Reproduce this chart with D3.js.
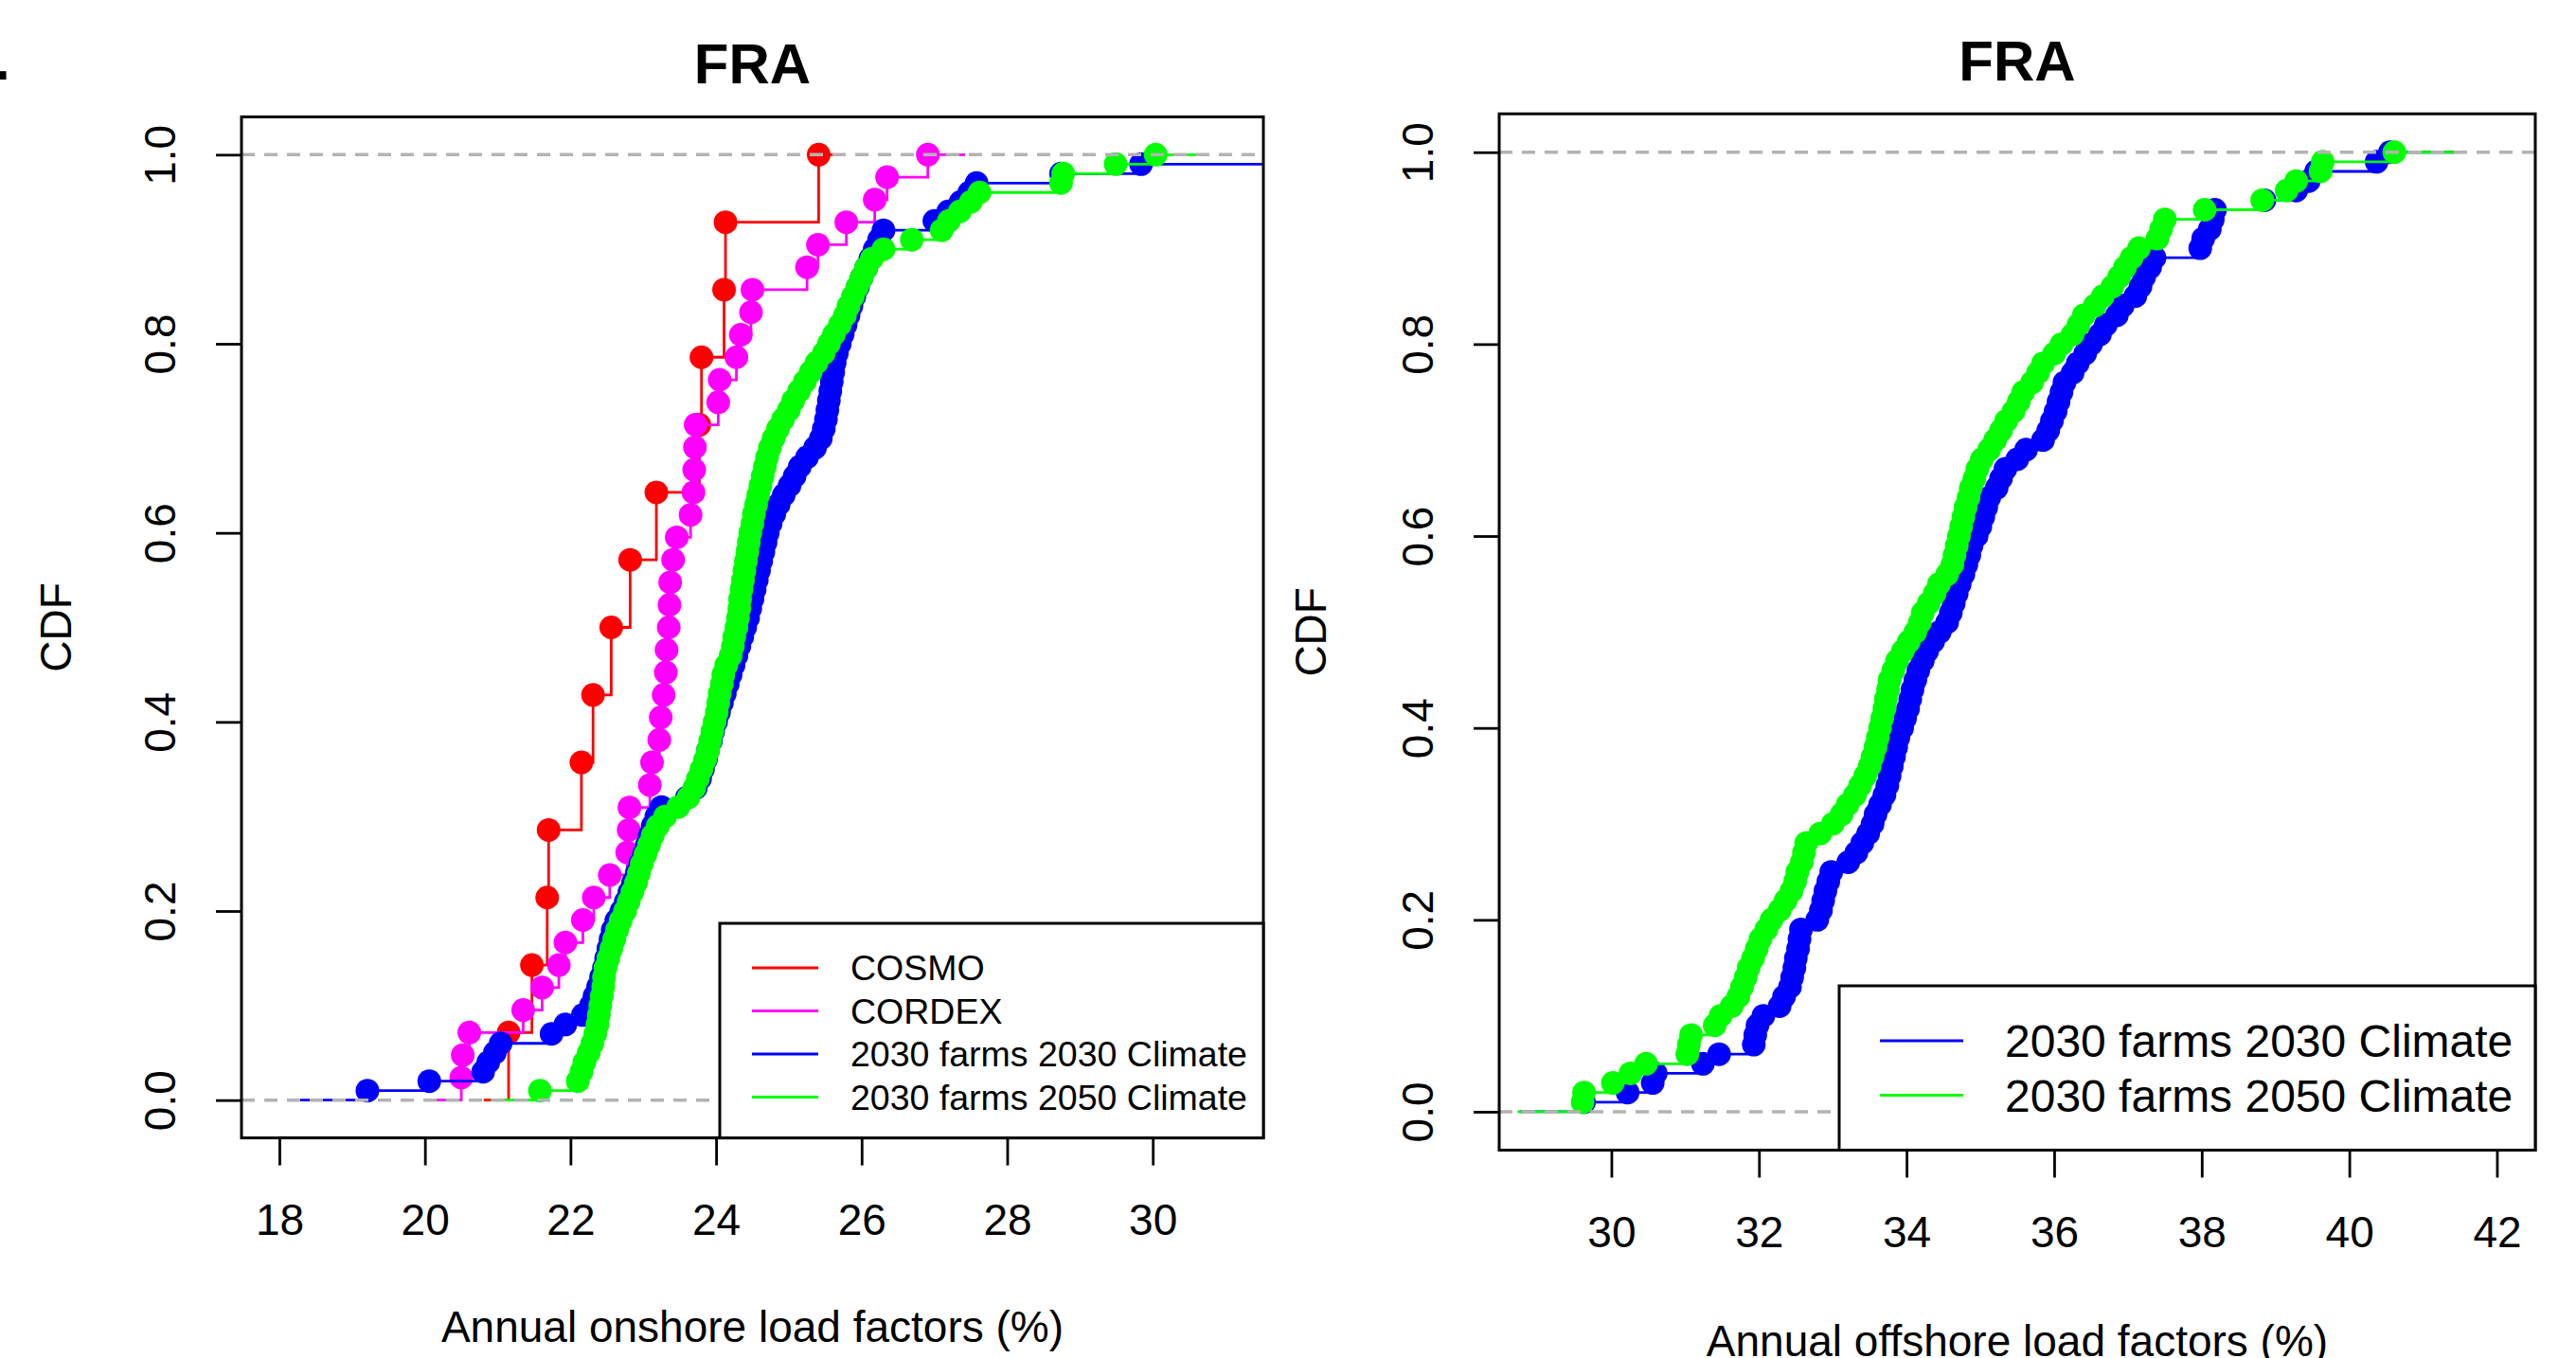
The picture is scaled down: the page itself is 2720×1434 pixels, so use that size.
<!DOCTYPE html>
<html>
<head>
<meta charset="utf-8">
<script src="https://cdn.jsdelivr.net/npm/d3@7"></script>
<style>
  body { margin: 0; background: #fff; }
  text { font-family: "Liberation Sans", Arial, sans-serif; }
</style>
</head>
<body>
<svg id="chart" width="2720" height="1434"></svg>
<script>
// ---- data ----
var cosmoOnshore = [21.15, 21.47, 21.68, 21.70, 22.15, 22.31, 22.56, 22.82, 23.18, 23.77, 23.80, 24.11, 24.13, 25.41];

var cordexOnshore = [20.50, 20.52, 20.61, 21.35, 21.61, 21.84, 21.93, 22.17, 22.32, 22.54,
  22.78, 22.80, 22.81, 23.09, 23.12, 23.22, 23.24, 23.28, 23.31, 23.32,
  23.35, 23.36, 23.37, 23.41, 23.46, 23.65, 23.69, 23.70, 23.71, 23.72,
  24.03, 24.05, 24.28, 24.34, 24.48, 24.50, 25.25, 25.40, 25.79, 26.18,
  26.35, 26.91];

var farms2030Onshore = [19.21, 20.06, 20.80, 20.87, 20.96, 21.04, 21.74, 21.93, 22.17, 22.28,
  22.33, 22.38, 22.42, 22.46, 22.49, 22.52, 22.55, 22.58, 22.63, 22.70,
  22.76, 22.81, 22.86, 22.91, 22.96, 23.01, 23.05, 23.09, 23.13, 23.18,
  23.25, 23.60, 23.72, 23.78, 23.82, 23.86, 23.89, 23.93, 23.96, 24.00,
  24.04, 24.08, 24.12, 24.16, 24.20, 24.24, 24.28, 24.32, 24.36, 24.40,
  24.44, 24.47, 24.50, 24.53, 24.56, 24.59, 24.62, 24.65, 24.68, 24.71,
  24.75, 24.80, 24.86, 24.93, 25.01, 25.08, 25.15, 25.25, 25.36, 25.44,
  25.48, 25.51, 25.53, 25.55, 25.57, 25.59, 25.61, 25.63, 25.66, 25.70,
  25.74, 25.78, 25.82, 25.86, 25.90, 25.95, 26.00, 26.06, 26.12, 26.18,
  26.24, 26.30, 27.00, 27.19, 27.36, 27.48, 27.58, 28.74, 29.84, 33.00];

var farms2050Onshore = [21.58, 22.10, 22.15, 22.19, 22.25, 22.30, 22.34, 22.37, 22.39, 22.41,
  22.43, 22.45, 22.46, 22.48, 22.52, 22.56, 22.60, 22.64, 22.69, 22.75,
  22.80, 22.85, 22.90, 22.94, 22.98, 23.03, 23.08, 23.13, 23.20, 23.30,
  23.48, 23.62, 23.70, 23.75, 23.80, 23.85, 23.89, 23.92, 23.95, 23.98,
  24.01, 24.03, 24.05, 24.08, 24.10, 24.14, 24.20, 24.23, 24.25, 24.28,
  24.30, 24.32, 24.33, 24.35, 24.37, 24.39, 24.41, 24.43, 24.45, 24.47,
  24.50, 24.52, 24.55, 24.58, 24.61, 24.64, 24.67, 24.70, 24.74, 24.79,
  24.85, 24.92, 25.00, 25.06, 25.14, 25.22, 25.30, 25.38, 25.48, 25.55,
  25.62, 25.70, 25.77, 25.82, 25.88, 25.94, 26.00, 26.06, 26.14, 26.30,
  26.69, 27.10, 27.20, 27.35, 27.50, 27.62, 28.74, 28.77, 29.49, 30.04];

var farms2030Offshore = [29.63, 30.22, 30.56, 30.60, 31.24, 31.46, 31.93, 31.95, 31.98, 32.06,
  32.28, 32.34, 32.42, 32.45, 32.48, 32.50, 32.53, 32.55, 32.57, 32.79,
  32.84, 32.87, 32.90, 32.94, 32.98, 33.21, 33.32, 33.40, 33.48, 33.54,
  33.58, 33.64, 33.70, 33.74, 33.77, 33.80, 33.83, 33.86, 33.89, 33.94,
  33.98, 34.02, 34.05, 34.08, 34.12, 34.16, 34.22, 34.28, 34.36, 34.45,
  34.55, 34.60, 34.64, 34.68, 34.72, 34.77, 34.81, 34.85, 34.88, 34.95,
  35.00, 35.04, 35.08, 35.12, 35.22, 35.28, 35.34, 35.50, 35.62, 35.85,
  35.92, 35.97, 36.02, 36.06, 36.10, 36.14, 36.25, 36.32, 36.42, 36.50,
  36.62, 36.70, 36.85, 36.93, 37.10, 37.17, 37.22, 37.30, 37.36, 37.98,
  38.02, 38.11, 38.15, 38.18, 38.85, 39.28, 39.45, 39.55, 40.37, 40.55];

var farms2050Offshore = [29.61, 29.63, 30.02, 30.26, 30.47, 31.03, 31.05, 31.08, 31.40, 31.48,
  31.63, 31.72, 31.77, 31.82, 31.86, 31.92, 31.97, 32.02, 32.10, 32.17,
  32.28, 32.36, 32.44, 32.49, 32.52, 32.58, 32.61, 32.64, 32.83, 33.00,
  33.12, 33.20, 33.30, 33.37, 33.44, 33.50, 33.54, 33.58, 33.61, 33.64,
  33.67, 33.70, 33.72, 33.75, 33.77, 33.82, 33.87, 33.95, 34.03, 34.12,
  34.18, 34.22, 34.30, 34.38, 34.44, 34.55, 34.62, 34.65, 34.68, 34.71,
  34.74, 34.77, 34.80, 34.84, 34.87, 34.92, 34.96, 35.02, 35.12, 35.20,
  35.28, 35.35, 35.45, 35.52, 35.58, 35.70, 35.78, 35.85, 36.00, 36.10,
  36.25, 36.33, 36.40, 36.55, 36.66, 36.79, 36.88, 36.96, 37.05, 37.15,
  37.40, 37.45, 37.50, 38.04, 38.82, 39.15, 39.28, 39.61, 39.64, 40.61];

var onshoreXTicks = [18, 20, 22, 24, 26, 28, 30];
var offshoreXTicks = [30, 32, 34, 36, 38, 40, 42];
var cdfTicks = [0, 0.2, 0.4, 0.6, 0.8, 1.0];

var onshoreLegend = ['COSMO', 'CORDEX', '2030 farms 2030 Climate', '2030 farms 2050 Climate'];
var offshoreLegend = ['2030 farms 2030 Climate', '2030 farms 2050 Climate'];

// ---- drawing ----
var svg = d3.select('#chart');
svg.append('rect').attr('width', 2720).attr('height', 1434).attr('fill', '#fff');

// stray panel tag cut at the left edge
svg.append('text').attr('x', -6).attr('y', 84)
  .attr('font-size', 60).attr('font-weight', 'bold').text('.');

function ecdfSteps(vals) {
  var v = vals.slice().sort(d3.ascending);
  var n = v.length;
  var gaps = v.slice(1).map(function(d, i) { return d - v[i]; });
  var dr = Math.max(0.08 * (v[n-1] - v[0]), d3.median(gaps));
  var pts = [[v[0] - dr, 0]];
  v.forEach(function(d, i) {
    pts.push([d, i / n]);
    pts.push([d, (i + 1) / n]);
  });
  pts.push([v[n-1] + dr, 1]);
  return { steps: pts, dots: v.map(function(d, i) { return [d, (i + 1) / n]; }) };
}

function drawPanel(p) {
  var pad = 0.04 * (p.xlim[1] - p.xlim[0]);
  var x = d3.scaleLinear().domain([p.xlim[0] - pad, p.xlim[1] + pad]).range([p.left, p.right]);
  var y = d3.scaleLinear().domain([-0.04, 1.04]).range([p.bottom, p.top]);
  var g = svg.append('g');

  var clipId = 'clip' + p.id;
  svg.append('clipPath').attr('id', clipId).append('rect')
    .attr('x', p.left).attr('y', p.top)
    .attr('width', p.right - p.left).attr('height', p.bottom - p.top);

  var plot = g.append('g').attr('clip-path', 'url(#' + clipId + ')');
  var line = d3.line().x(function(d) { return x(d[0]); }).y(function(d) { return y(d[1]); });

  p.series.forEach(function(s) {
    var e = ecdfSteps(s.values);
    plot.append('path').attr('d', line(e.steps))
      .attr('fill', 'none').attr('stroke', s.colour).attr('stroke-width', 2.8);
    plot.selectAll(null).data(e.dots).enter().append('circle')
      .attr('cx', function(d) { return x(d[0]); })
      .attr('cy', function(d) { return y(d[1]); })
      .attr('r', 12.5).attr('fill', s.colour);
  });

  [0, 1].forEach(function(h) {
    plot.append('line').attr('x1', p.left).attr('x2', p.right)
      .attr('y1', y(h)).attr('y2', y(h))
      .attr('stroke', '#B3B3B3').attr('stroke-width', 3.5)
      .attr('stroke-dasharray', '14,10');
  });

  // box
  g.append('rect').attr('x', p.left).attr('y', p.top)
    .attr('width', p.right - p.left).attr('height', p.bottom - p.top)
    .attr('fill', 'none').attr('stroke', '#000').attr('stroke-width', 3);

  // x axis
  var xa = g.append('g').attr('transform', 'translate(0,' + p.bottom + ')')
    .call(d3.axisBottom(x).tickValues(p.xTicks).tickSize(29).tickPadding(41).tickFormat(d3.format('d')));
  xa.select('.domain').remove();
  xa.append('line').attr('x1', x(p.xTicks[0])).attr('x2', x(p.xTicks[p.xTicks.length-1]))
    .attr('stroke', '#000').attr('stroke-width', 3);
  xa.selectAll('.tick line').attr('stroke-width', 2.8);
  xa.attr('font-size', 46).attr('font-family', '"Liberation Sans", Arial, sans-serif');

  // y axis
  var ya = g.append('g').attr('transform', 'translate(' + p.left + ',0)')
    .call(d3.axisLeft(y).tickValues(cdfTicks).tickSize(27).tickFormat(d3.format('.1f')));
  ya.select('.domain').remove();
  ya.selectAll('.tick line').attr('stroke-width', 2.8);
  ya.selectAll('.tick text').attr('x', null).attr('dy', null)
    .attr('text-anchor', 'middle').attr('transform', 'translate(-70,0) rotate(-90)');
  ya.attr('font-size', 46).attr('font-family', '"Liberation Sans", Arial, sans-serif');

  var cx = (p.left + p.right) / 2, cy = (p.top + p.bottom) / 2;
  g.append('text').attr('x', cx).attr('y', p.top - 35).attr('text-anchor', 'middle')
    .attr('font-size', 60).attr('font-weight', 'bold').text('FRA');
  g.append('text').attr('x', cx).attr('y', p.bottom + p.titleOffset).attr('text-anchor', 'middle')
    .attr('font-size', 46).text(p.xLabel);
  g.append('text').attr('transform', 'translate(' + (p.left - p.yLabelOffset) + ',' + cy + ') rotate(-90)')
    .attr('text-anchor', 'middle').attr('font-size', 46).text('CDF');

  // legend
  var L = p.legend;
  var lg = g.append('g');
  lg.append('rect').attr('x', L.x0).attr('y', L.y0)
    .attr('width', p.right - L.x0).attr('height', p.bottom - L.y0)
    .attr('fill', '#fff').attr('stroke', '#000').attr('stroke-width', 3);
  L.labels.forEach(function(lab, i) {
    var yy = L.firstY + i * L.step;
    lg.append('line').attr('x1', L.lineX0).attr('x2', L.lineX1).attr('y1', yy).attr('y2', yy)
      .attr('stroke', p.series[i].colour).attr('stroke-width', 3);
    lg.append('text').attr('x', L.textX).attr('y', yy + 0.358 * L.fontSize)
      .attr('font-size', L.fontSize).text(lab);
  });
}

drawPanel({
  id: 'on', left: 255, right: 1334, top: 123.4, bottom: 1201.6,
  xlim: [18, 31], xTicks: onshoreXTicks,
  xLabel: 'Annual onshore load factors (%)', titleOffset: 215, yLabelOffset: 180,
  series: [
    { values: cosmoOnshore, colour: '#FF0000' },
    { values: cordexOnshore, colour: '#FF00FF' },
    { values: farms2030Onshore, colour: '#0000FF' },
    { values: farms2050Onshore, colour: '#00FF00' }
  ],
  legend: { x0: 760, y0: 975, firstY: 1022, step: 45.5, lineX0: 794, lineX1: 864, textX: 898,
            fontSize: 37.5, labels: onshoreLegend }
});

drawPanel({
  id: 'off', left: 1583, right: 2677, top: 120.2, bottom: 1214.5,
  xlim: [29, 42], xTicks: offshoreXTicks,
  xLabel: 'Annual offshore load factors (%)', titleOffset: 217, yLabelOffset: 183,
  series: [
    { values: farms2030Offshore, colour: '#0000FF' },
    { values: farms2050Offshore, colour: '#00FF00' }
  ],
  legend: { x0: 1942, y0: 1041, firstY: 1099, step: 57.5, lineX0: 1985, lineX1: 2073, textX: 2117,
            fontSize: 48, labels: offshoreLegend }
});
</script>
</body>
</html>
